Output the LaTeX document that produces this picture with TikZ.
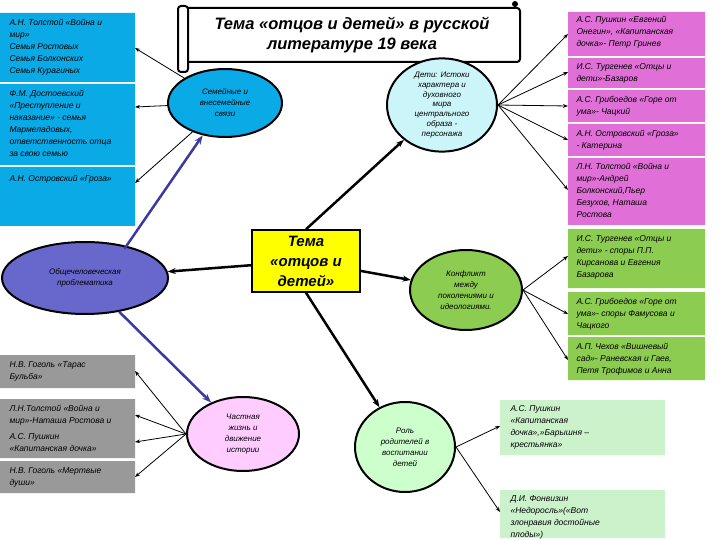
\documentclass[tikz,border=0pt]{standalone}
\usepackage{fontspec}
\setmainfont{Liberation Sans}
\usetikzlibrary{shapes.geometric,arrows.meta}
\definecolor{cblue}{HTML}{0AAAE6}
\definecolor{cpink}{HTML}{E070D8}
\definecolor{cgreen}{HTML}{8CCC50}
\definecolor{cgray}{HTML}{999999}
\definecolor{clgreen}{HTML}{CCF2CC}
\definecolor{cviol}{HTML}{6868CC}
\definecolor{cdeti}{HTML}{CCF5FA}
\definecolor{cchast}{HTML}{FFCCFF}
\definecolor{crol}{HTML}{CCFFCC}
\definecolor{cyell}{HTML}{FFFF00}
\definecolor{cline}{HTML}{3A3AA0}
\begin{document}
\begin{tikzpicture}[x=1pt,y=-1pt,
 txt/.style={anchor=north west,align=left,font=\itshape\fontsize{8.5}{12}\selectfont},
 ell/.style={ellipse,draw,line width=2pt,inner sep=0pt,align=center,font=\itshape\fontsize{8}{11}\selectfont},
 thin/.style={-{Stealth[length=5pt]},line width=0.8pt},
 thick/.style={-{Stealth[length=8pt]},line width=2.5pt},
 pur/.style={-{Stealth[length=9pt]},line width=2.5pt,draw=cline}]
\useasboundingbox (0,0) rectangle (720,540);
% blue boxes
\fill[cblue] (0,13) rectangle (135,82) (0,84) rectangle (135,165) (0,167) rectangle (135,226);
\node[txt] (b1) at (6,16) {А.Н. Толстой «Война и\\мир»\\Семья Ростовых\\Семья Болконских\\Семья  Курагиных};
\node[txt] (b2) at (6,87) {Ф.М. Достоевский\\«Преступление и\\наказание» - семья\\Мармеладовых,\\ответственность отца\\за свою семью};
\node[txt] (b3) at (6,172) {А.Н. Островский «Гроза»};
\coordinate (b1e) at (135,48); \coordinate (b2e) at (135,107); \coordinate (b3e) at (135,183);
% pink boxes
\fill[cpink] (568,12) rectangle (705,56) (568,58) rectangle (705,88) (568,90) rectangle (705,122) (568,124) rectangle (705,156) (568,158) rectangle (705,225);
\node[txt] (p1) at (573,13) {А.С. Пушкин «Евгений\\Онегин», «Капитанская\\дочка»- Петр Гринев};
\node[txt] (p2) at (573,60) {И.С. Тургенев «Отцы и\\дети»-Базаров};
\node[txt] (p3) at (573,93) {А.С. Грибоедов «Горе от\\ума»- Чацкий};
\node[txt] (p4) at (573,127) {А.Н. Островский «Гроза»\\- Катерина};
\node[txt] (p5) at (573,160) {Л.Н. Толстой «Война и\\мир»-Андрей\\Болконский,Пьер\\Безухов, Наташа\\Ростова};
% green boxes
\fill[cgreen] (568,229) rectangle (705,288) (568,292) rectangle (705,335) (568,337) rectangle (705,380);
\node[txt] (g1) at (573,232) {И.С. Тургенев «Отцы и\\дети» - споры П.П.\\Кирсанова и Евгения\\Базарова};
\node[txt] (g2) at (573,295) {А.С. Грибоедов «Горе от\\ума»- споры Фамусова и\\Чацкого};
\node[txt] (g3) at (573,340) {А.П. Чехов «Вишневый\\сад»- Раневская и Гаев,\\Петя Трофимов и Анна};
% gray boxes
\fill[cgray] (0,355) rectangle (135,388) (0,399) rectangle (135,458) (0,461) rectangle (135,493);
\node[txt] (y1) at (6,358) {Н.В. Гоголь «Тарас\\Бульба»};
\node[txt] (y2) at (6,402) {Л.Н.Толстой «Война и\\мир»-Наташа Ростова и};
\node[txt] (y3) at (6,430) {А.С. Пушкин\\«Капитанская дочка»};
\node[txt] (y4) at (6,464) {Н.В. Гоголь «Мертвые\\души»};
% light green boxes
\fill[clgreen] (500,400) rectangle (665,455) (500,490) rectangle (665,538);
\node[txt] (l1) at (507,402) {А.С. Пушкин\\«Капитанская\\дочка»,»Барышня –\\крестьянка»};
\node[txt] (l2) at (507,492) {Д.И. Фонвизин\\«Недоросль»(«Вот\\злонравия достойные\\плоды»)};
% title scroll
\draw[line width=2pt,fill=white,rounded corners=3pt] (183,8) rectangle (520,62);
\draw[line width=2pt,fill=white,rounded corners=3pt] (178,6) rectangle (188,72);
\fill (515,4) circle (3pt);
\node[font=\bfseries\itshape\fontsize{16.5}{20}\selectfont,align=center] (title) at (352,35) {Тема «отцов и детей» в русской\\литературе 19 века};
% ellipses
\node[ell,fill=cblue,minimum width=114pt,minimum height=68pt] (sem) at (225,103) {Семейные и\\внесемейные\\связи};
\node[ell,fill=cdeti,minimum width=110pt,minimum height=92pt,font=\itshape\fontsize{8}{9.8}\selectfont] (det) at (442,105) {Дети: Истоки\\характера и\\духовного\\мира\\центрального\\образа -\\персонажа};
\node[ell,fill=cviol,minimum width=166pt,minimum height=72pt] (obs) at (85,278) {Общечеловеческая\\проблематика};
\node[ell,fill=cgreen,minimum width=112pt,minimum height=80pt] (kon) at (466,290) {Конфликт\\между\\поколениями и\\идеологиями.};
\node[ell,fill=cchast,minimum width=112pt,minimum height=74pt] (cha) at (243,434) {Частная\\жизнь и\\движение\\истории};
\node[ell,fill=crol,minimum width=100pt,minimum height=90pt] (rol) at (405,447) {Роль\\родителей в\\воспитании\\детей};
% yellow
\node[draw,line width=1.5pt,fill=cyell,minimum width=108pt,minimum height=62pt,align=center,font=\bfseries\itshape\fontsize{15}{20}\selectfont] (tema) at (306,261) {Тема\\«отцов и\\детей»};
% connectors
\draw[thin] (sem) -- (b1e);
\draw[thin] (sem) -- (b2e);
\draw[thin] (sem) -- (b3e);
\foreach \p/\y in {p1/34,p2/72,p3/106,p4/140,p5/190} {\coordinate (e\p) at (568,\y); \draw[thin] (det.east) -- (e\p);}
\foreach \g/\y in {g1/256,g2/314,g3/360} {\coordinate (e\g) at (568,\y); \draw[thin] (kon.east) -- (e\g);}
\foreach \q/\y in {y1/371,y2/415,y3/442,y4/477} {\coordinate (e\q) at (135,\y); \draw[thin] (cha.west) -- (e\q);}
\coordinate (el1) at (500,426); \coordinate (el2) at (500,512);
\draw[thin] (rol.east) -- (el1); \draw[thin] (rol.east) -- (el2);
\draw[thick] (tema) -- (obs);
\draw[thick] (tema.north) -- (det);
\draw[thick] (tema) -- (kon);
\draw[thick] (tema.south) -- (rol);
\draw[pur] (obs.north east) ++(-20,-3) coordinate (o1) -- (sem);
\draw[pur] (obs) -- (cha);
\end{tikzpicture}
\end{document}
